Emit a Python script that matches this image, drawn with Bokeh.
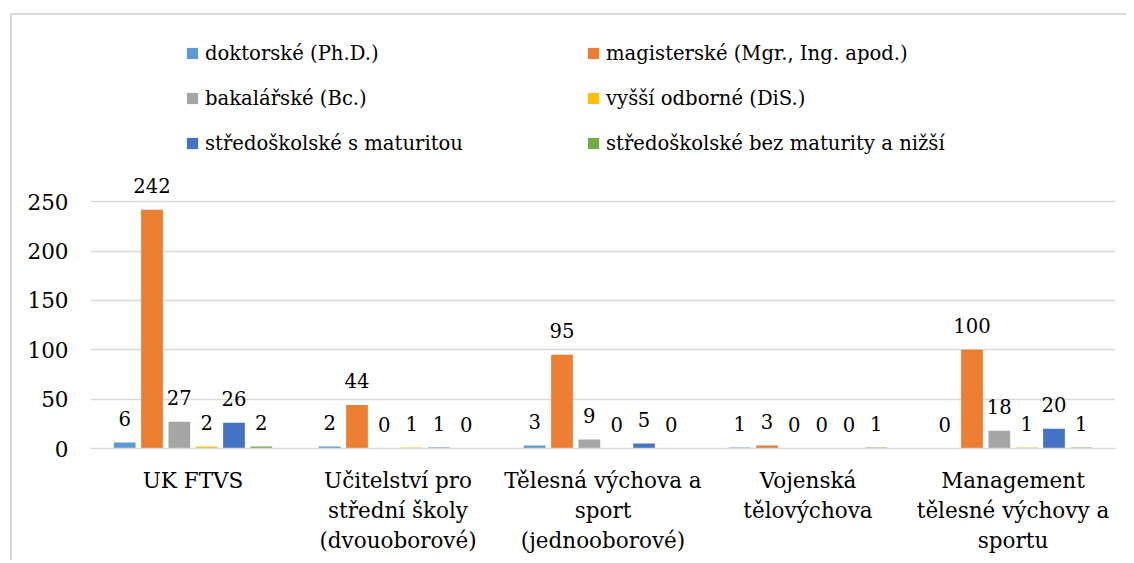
from bokeh.plotting import figure
from bokeh.models import ColumnDataSource, FactorRange, FixedTicker, Legend, LegendItem, LabelSet
from bokeh.core.properties import value
from bokeh.transform import dodge
from bokeh.embed import file_html
from bokeh.resources import INLINE

categories = [
    "UK FTVS",
    "Učitelství pro\nstřední školy\n(dvouoborové)",
    "Tělesná výchova a\nsport\n(jednooborové)",
    "Vojenská\ntělovýchova",
    "Management\ntělesné výchovy a\nsportu",
]
series_names = [
    "doktorské (Ph.D.)",
    "magisterské (Mgr., Ing. apod.)",
    "bakalářské (Bc.)",
    "vyšší odborné (DiS.)",
    "středoškolské s maturitou",
    "středoškolské bez maturity a nižší",
]
doktorske = [6, 2, 3, 1, 0]
magisterske = [242, 44, 95, 3, 100]
bakalarske = [27, 0, 9, 0, 18]
vyssi_odborne = [2, 1, 0, 0, 1]
ss_s_maturitou = [26, 1, 5, 0, 20]
ss_bez_maturity = [2, 0, 0, 1, 1]
y_ticks = [0, 50, 100, 150, 200, 250]

series_values = [doktorske, magisterske, bakalarske, vyssi_odborne, ss_s_maturitou, ss_bez_maturity]
colors = ["#5B9BD5", "#ED7D31", "#A5A5A5", "#FFC000", "#4472C4", "#70AD47"]

FONT = "DejaVu Serif"
AX_FS = "21.5px"
LB_FS = "19.6px"

data = {"cat": categories}
for i, vals in enumerate(series_values):
    data[f"s{i}"] = vals
    data[f"t{i}"] = [str(v) for v in vals]
source = ColumnDataSource(data)

p = figure(
    x_range=FactorRange(*categories, range_padding=0),
    y_range=(0, 438.8),
    frame_width=1025, frame_height=433,
    output_backend="svg", toolbar_location=None,
    min_border_left=78, min_border_right=11, min_border_top=0, min_border_bottom=112,
    styles={"margin-left": "10px", "margin-top": "13px",
            "border-left": "2px solid #d9d9d9", "border-top": "2px solid #d9d9d9"},
)
p.outline_line_color = None
p.xgrid.grid_line_color = None
p.ygrid.grid_line_color = "#d9d9d9"
p.ygrid.grid_line_width = 1.5

p.yaxis.ticker = FixedTicker(ticks=y_ticks)
p.yaxis.axis_line_color = None
p.yaxis.major_tick_line_color = None
p.yaxis.minor_tick_line_color = None
p.yaxis.major_label_text_font = FONT
p.yaxis.major_label_text_font_size = AX_FS
p.yaxis.major_label_text_color = "#000000"
p.yaxis.major_label_standoff = 16

p.xaxis.axis_line_color = "#d9d9d9"
p.xaxis.axis_line_width = 1.5
p.xaxis.major_tick_line_color = None
p.xaxis.minor_tick_line_color = None
p.xaxis.major_label_text_font = FONT
p.xaxis.major_label_text_font_size = AX_FS
p.xaxis.major_label_text_color = "#000000"
p.xaxis.major_label_text_line_height = 1.2
p.xaxis.major_label_standoff = 13

pitch = 0.1333
bw = 0.106
items = []
for i in range(6):
    off = (i - 2.5) * pitch
    r = p.vbar(x=dodge("cat", off, range=p.x_range), top=f"s{i}", width=bw,
               source=source, fill_color=colors[i], line_color=None)
    items.append(LegendItem(label=series_names[i], renderers=[r]))
    lbl = LabelSet(x=dodge("cat", off, range=p.x_range), y=f"s{i}", text=f"t{i}",
                   source=source, text_align="center", text_baseline="alphabetic",
                   y_offset=17, text_font=value(FONT), text_font_size=value(LB_FS),
                   text_color="#000000")
    p.add_layout(lbl)

def make_legend(its, loc):
    lg = Legend(items=its, location=loc, orientation="vertical")
    lg.padding = 0
    lg.margin = 0
    lg.border_line_color = None
    lg.background_fill_alpha = 0
    lg.glyph_width = 14
    lg.glyph_height = 14
    lg.label_standoff = 6
    lg.label_height = 28
    lg.spacing = 17
    lg.label_text_font = FONT
    lg.label_text_font_size = LB_FS
    lg.label_text_color = "#000000"
    return lg

p.add_layout(make_legend([items[0], items[2], items[4]], (95, 291)))
p.add_layout(make_legend([items[1], items[3], items[5]], (496, 291)))

open("out.html", "w").write(file_html(p, INLINE))
